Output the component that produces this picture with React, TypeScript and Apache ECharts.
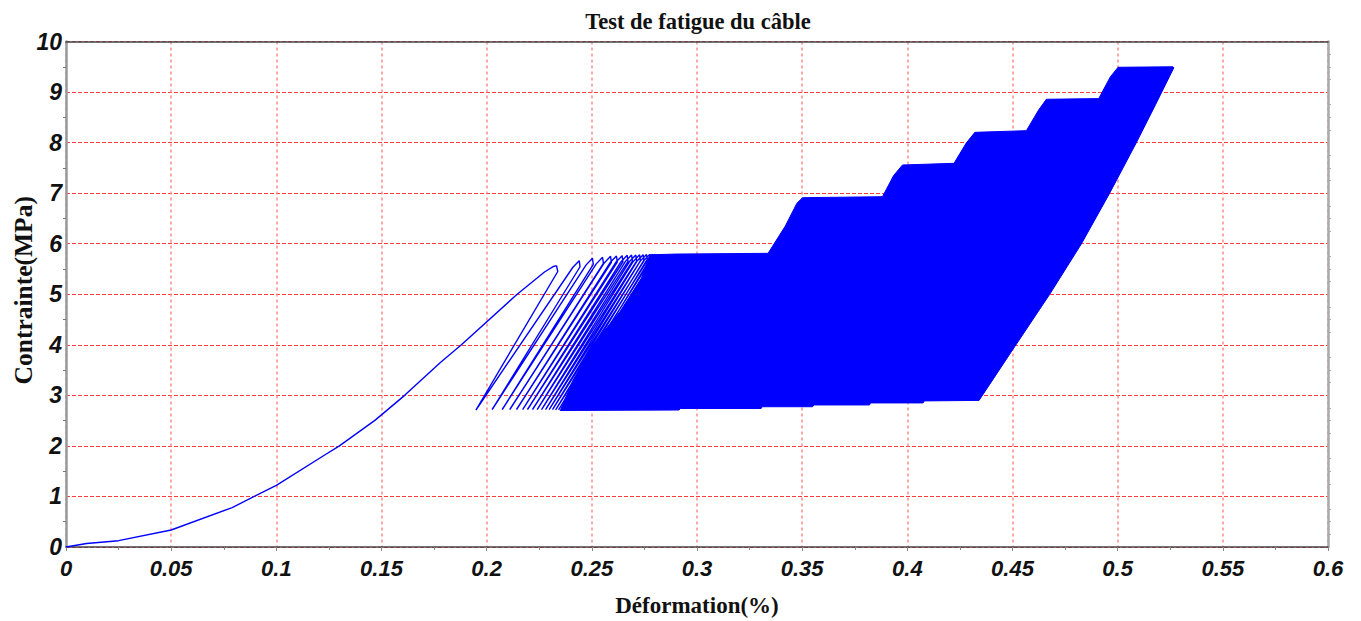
import React, { useEffect, useRef } from "react";
import * as echarts from "echarts";

// Initial monotonic loading curve (strain %, stress MPa)
const initialLoading: [number, number][] = [
  [0, 0], [0.0098, 0.07], [0.025, 0.125], [0.05, 0.336], [0.079, 0.78],
  [0.1, 1.22], [0.123, 1.82], [0.13, 2.0], [0.147, 2.51], [0.161, 3.0],
  [0.178, 3.65], [0.188, 4.0], [0.2145, 5.0], [0.2275, 5.44], [0.2318, 5.55],
  [0.2332, 5.565],
];

// First distinguishable unloading / reloading cycles
const cycleTrace: [number, number][] = [
  [0.2332, 5.565], [0.2338, 5.45], [0.1949, 2.71],
  [0.241, 5.534], [0.244, 5.664], [0.2444, 5.544], [0.2026, 2.72],
  [0.2473, 5.581], [0.2503, 5.711], [0.2507, 5.591], [0.2074, 2.72],
  [0.2521, 5.601], [0.2551, 5.731], [0.2555, 5.611], [0.211, 2.72],
  [0.2559, 5.62], [0.2589, 5.75], [0.2593, 5.63], [0.2142, 2.72],
  [0.2587, 5.627], [0.2617, 5.757], [0.2621, 5.637], [0.2171, 2.72],
  [0.2614, 5.633], [0.2644, 5.763], [0.2648, 5.643], [0.2194, 2.72],
  [0.2638, 5.64], [0.2668, 5.77], [0.2672, 5.65], [0.2218, 2.72],
  [0.2659, 5.646], [0.2689, 5.776], [0.2693, 5.656], [0.224, 2.72],
  [0.2679, 5.646], [0.2709, 5.776], [0.2713, 5.656], [0.2261, 2.72],
  [0.2697, 5.65], [0.2727, 5.78], [0.2731, 5.66], [0.228, 2.72],
  [0.2714, 5.652], [0.2744, 5.782], [0.2748, 5.662], [0.2297, 2.72],
  [0.273, 5.655], [0.276, 5.785], [0.2764, 5.665], [0.2313, 2.72],
  [0.2745, 5.657], [0.2775, 5.787], [0.2779, 5.667], [0.2328, 2.715],
  [0.2759, 5.66], [0.2789, 5.79], [0.2793, 5.67], [0.2342, 2.715],
  [0.2772, 5.66], [0.2802, 5.79],
];

// Outline of the densely overlapping cycles (later part of the test)
const denseEnvelope: [number, number][] = [
  [0.235, 2.7], [0.2411, 3.3], [0.2506, 4.0], [0.2633, 4.65], [0.2736, 5.32],
  [0.2776, 5.78], [0.29, 5.795], [0.3338, 5.81], [0.342, 6.35], [0.3475, 6.8],
  [0.3502, 6.91], [0.3882, 6.93], [0.3935, 7.35], [0.3977, 7.557], [0.4222, 7.59],
  [0.428, 7.99], [0.4321, 8.203], [0.4566, 8.236], [0.4625, 8.65], [0.4661, 8.857],
  [0.491, 8.87], [0.4965, 9.3], [0.5002, 9.49], [0.5263, 9.5], [0.5267, 9.48],
  [0.518, 8.75], [0.5089, 8.0], [0.4962, 7.0], [0.4828, 6.0], [0.4677, 5.0],
  [0.451, 3.96], [0.4341, 2.9], [0.408, 2.89], [0.4075, 2.85],
  [0.3825, 2.85], [0.382, 2.81], [0.3555, 2.81], [0.355, 2.775], [0.331, 2.775],
  [0.3305, 2.74], [0.292, 2.74], [0.2915, 2.71], [0.235, 2.7],
];

const chartTitle = "Test de fatigue du câble";
const xName = "Déformation(%)";
const yName = "Contrainte(MPa)";

export default function App() {
  const ref = useRef<HTMLDivElement>(null);
  useEffect(() => {
    const chart = echarts.init(ref.current!, null, { renderer: "svg" });
    const labelFont = {
      fontFamily: "'Liberation Sans', Arial, sans-serif",
      fontWeight: "bold" as const,
      fontStyle: "italic" as const,
      fontSize: 22,
      color: "#111",
    };
    const nameFont = {
      fontFamily: "'Liberation Serif', 'Times New Roman', serif",
      fontWeight: "bold" as const,
      fontSize: 23,
      color: "#111",
    };
    const blue = "#0000ff";
    chart.setOption({
      animation: false,
      backgroundColor: "#ffffff",
      title: {
        text: chartTitle,
        left: 693,
        top: 5,
        textAlign: "center",
        textStyle: { ...nameFont, fontSize: 22.5 },
      },
      grid: {
        left: 66,
        right: 33,
        top: 41.5,
        bottom: 74,
        containLabel: false,
        outerBoundsMode: "none",
      },
      xAxis: [
        {
          type: "value",
          min: 0,
          max: 0.6,
          interval: 0.05,
          position: "bottom",
          axisLine: { show: true, onZero: false, lineStyle: { color: "#444", width: 1.5 } },
          axisTick: { show: true, inside: false, length: 4, lineStyle: { color: "#888" } },
          minorTick: { show: true, splitNumber: 2, length: 3, lineStyle: { color: "#888" } },
          axisLabel: { ...labelFont, margin: 10 },
          splitLine: { show: true, lineStyle: { color: "#ff8c8c", width: 1.5, type: [3, 3] } },
          name: xName,
          nameLocation: "middle",
          nameGap: 47,
          nameMoveOverlap: false,
          nameTextStyle: nameFont,
        },
        {
          type: "value",
          min: 0,
          max: 0.6,
          interval: 0.05,
          position: "top",
          axisLine: { show: true, onZero: false, lineStyle: { color: "#444", width: 1.5 } },
          axisTick: { show: false },
          axisLabel: { show: false },
          splitLine: { show: false },
        },
      ],
      yAxis: [
        {
          type: "value",
          min: 0,
          max: 10,
          interval: 1,
          position: "left",
          axisLine: { show: true, onZero: false, lineStyle: { color: "#9a9a9a", width: 2.5 } },
          axisTick: { show: false },
          minorTick: { show: true, splitNumber: 2, length: 3, lineStyle: { color: "#777" } },
          axisLabel: { ...labelFont, fontSize: 23, margin: 4 },
          splitLine: { show: true, lineStyle: { color: "#ff3b3b", width: 1, type: [4, 2] } },
          name: yName,
          nameLocation: "middle",
          nameGap: 30,
          nameMoveOverlap: false,
          nameTextStyle: { ...nameFont, fontSize: 25.5, padding: [0, 0, 0, 8] },
        },
        {
          type: "value",
          min: 0,
          max: 10,
          interval: 1,
          position: "right",
          axisLine: { show: true, onZero: false, lineStyle: { color: "#aaaaaa", width: 2.5 } },
          axisTick: { show: false },
          minorTick: { show: true, splitNumber: 4, length: 3, lineStyle: { color: "#aaa" } },
          axisLabel: { show: false },
          splitLine: { show: false },
        },
      ],
      series: [
        {
          type: "custom",
          xAxisIndex: 0,
          yAxisIndex: 0,
          silent: true,
          z: 3,
          data: denseEnvelope,
          renderItem: (params: any, api: any) => {
            if (params.dataIndex !== 0) return null;
            const pts = denseEnvelope.map((p) => api.coord(p));
            return {
              type: "polygon",
              shape: { points: pts },
              style: { fill: blue, stroke: blue, lineWidth: 1 },
            };
          },
        },
        {
          type: "line",
          data: initialLoading,
          showSymbol: false,
          symbol: "none",
          z: 4,
          lineStyle: { color: blue, width: 1.4 },
        },
        {
          type: "line",
          data: cycleTrace,
          showSymbol: false,
          symbol: "none",
          z: 4,
          lineStyle: { color: blue, width: 1.4 },
        },
      ],
    });
    return () => chart.dispose();
  }, []);
  return (
    <div
      ref={ref}
      style={{ position: "fixed", left: 0, top: 0, width: 1361, height: 621, background: "#fff" }}
    />
  );
}
